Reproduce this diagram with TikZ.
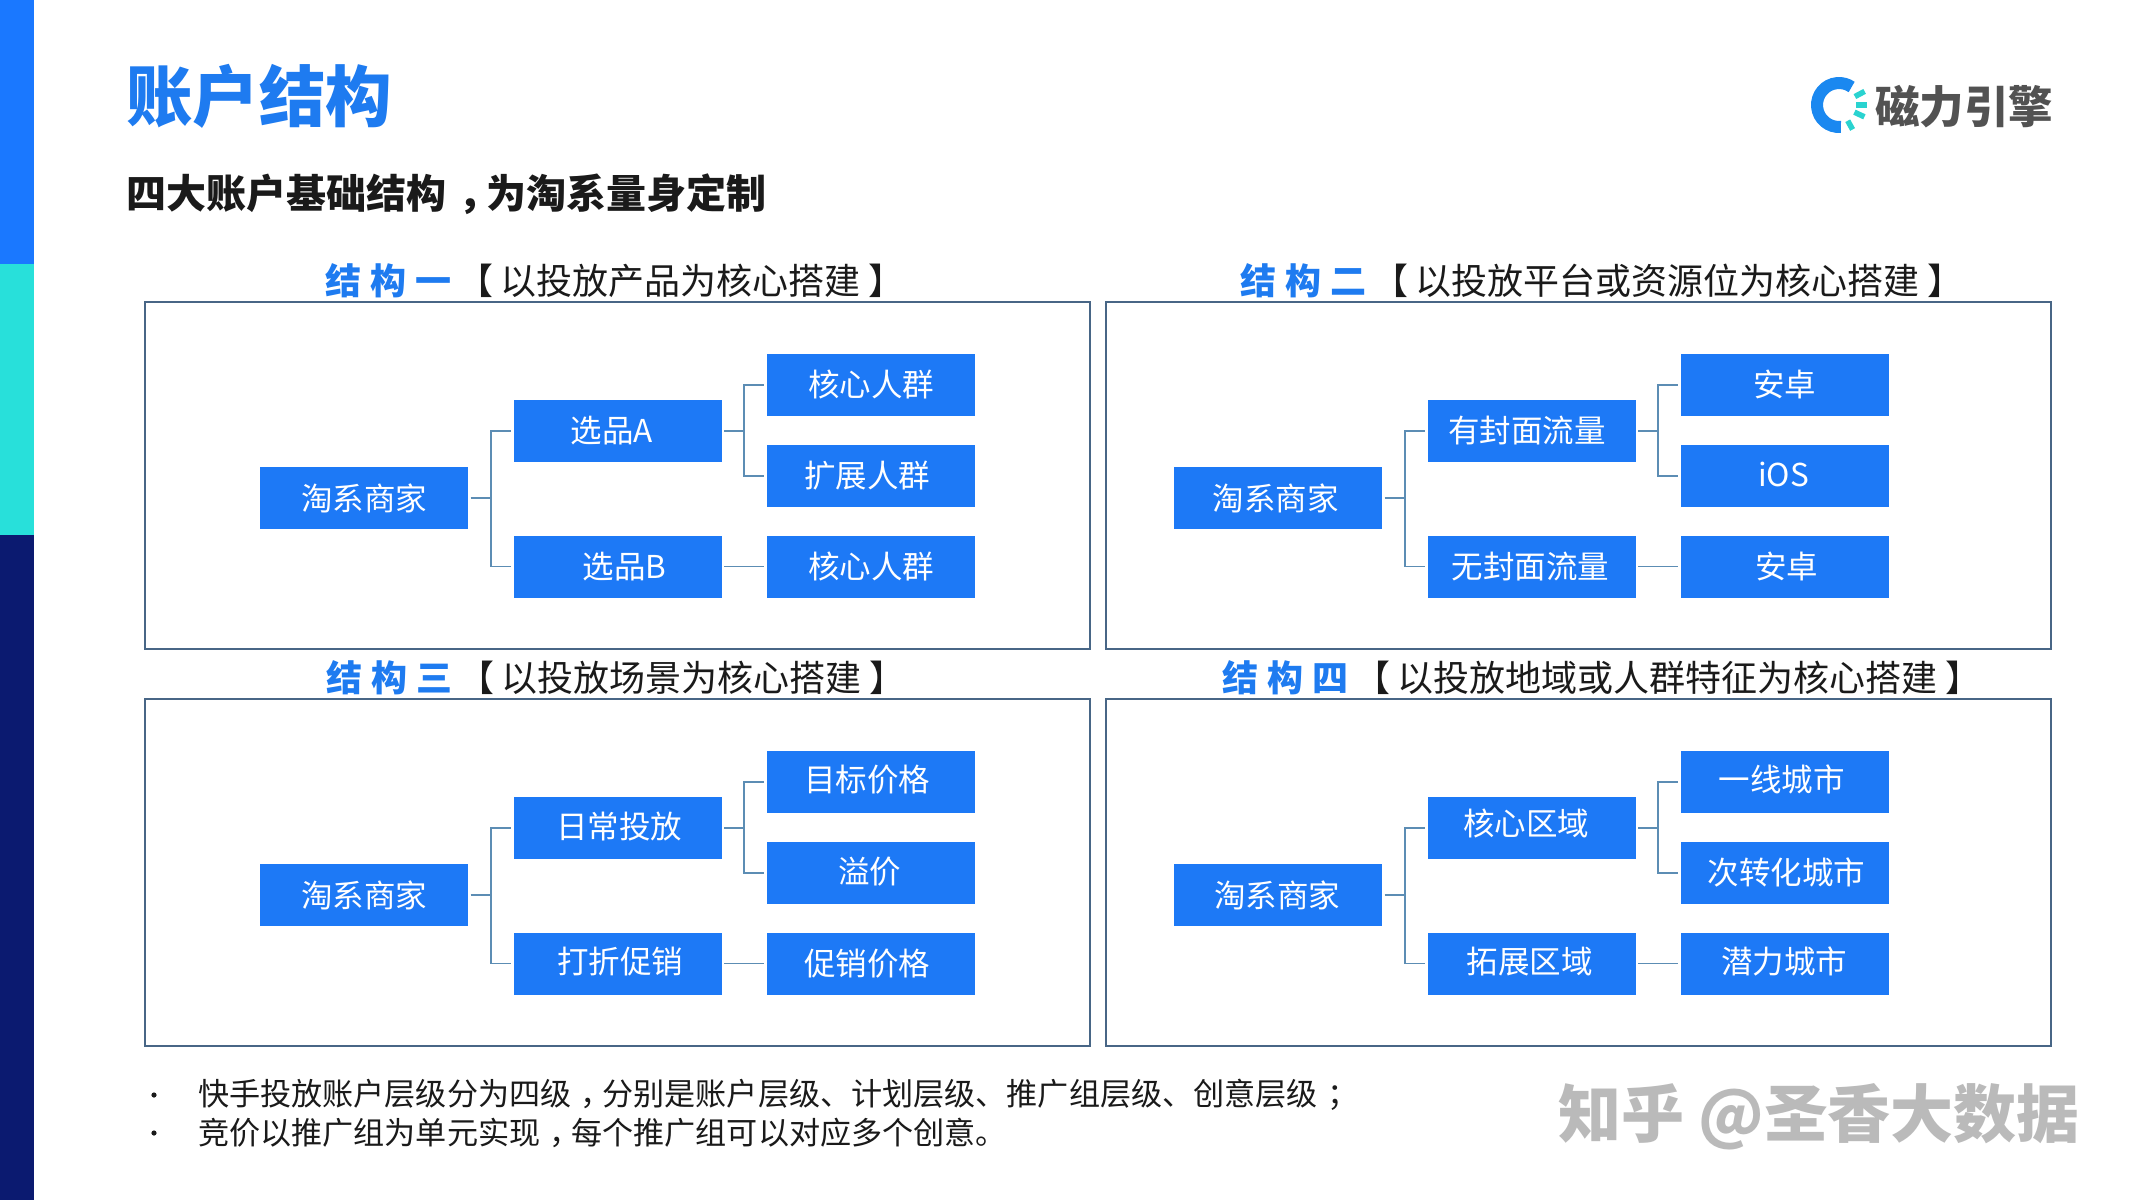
\documentclass[tikz,border=0pt]{standalone}
\usepackage{fontspec}
\setmainfont{Noto Sans CJK SC}
\usetikzlibrary{calc}
\definecolor{tblue}{HTML}{1E7BF0}
\definecolor{bxblue}{HTML}{1D79F6}
\definecolor{barblue}{HTML}{1A78FF}
\definecolor{barcyan}{HTML}{28E0DA}
\definecolor{barnavy}{HTML}{0B1A70}
\definecolor{frm}{HTML}{486686}
\definecolor{cnn}{HTML}{5C8DB4}
\definecolor{ink}{HTML}{1A1A1A}
\definecolor{logoc}{HTML}{2AD3D0}
\definecolor{logob}{HTML}{1A88F0}
\tikzset{
  bx/.style={fill=bxblue,draw=none,text=white,inner sep=0pt,minimum width=208pt,minimum height=62pt,font=\fontsize{31.5}{31.5}\selectfont},
  frame/.style={draw=frm,line width=1.3pt,fill=white,inner sep=0pt,minimum width=945pt,minimum height=347pt},
  cn/.style={draw=cnn,line width=1.8pt},
  head/.style={inner sep=0pt,font=\fontsize{36}{36}\selectfont,text=ink},
  body/.style={inner sep=0pt,anchor=west,font=\fontsize{31.1}{31.1}\selectfont,text=ink},
  tick/.style={draw=logoc,line width=5.5pt},
}
% text inside a box, displaced from the box centre by (#1,#2) px
\newcommand\off[3]{\raisebox{\dimexpr 2\dimexpr #2pt\relax\relax}{\hspace*{\dimexpr 2\dimexpr #1pt\relax\relax}#3}}
% a full-width comma or semicolon moved to the middle of its em box
\newcommand\midp[1]{\kern0.3em #1\kern-0.3em\relax}
\newcommand\tree[8]{%
  \begin{scope}[shift={(#2,#3)}]
  \node[bx] (#1r) at (364,498.25) {#4};
  \node[bx] (#1a) at (617.5,430.75) {#5};
  \node[bx] (#1b) at (617.5,566.5) {#6};
  \node[bx] (#1p) at (870.5,385) {#7};
  \node[bx] (#1q) at (870.5,476) {#8};
  \coordinate (#1j) at (491,498.25);
  \coordinate (#1k) at (744,430.75);
  \end{scope}
  \draw[cn,shorten <=2.5pt] (#1r.east) -- (#1j);
  \draw[cn,shorten <=2.5pt] (#1a.west) -| (#1j);
  \draw[cn,shorten <=2.5pt] (#1b.west) -| (#1j);
  \draw[cn,shorten <=2.5pt] (#1a.east) -- (#1k);
  \draw[cn,shorten <=2.5pt] (#1p.west) -| (#1k);
  \draw[cn,shorten <=2.5pt] (#1q.west) -| (#1k);
  \draw[cn,shorten <=2.5pt,shorten >=2.5pt] (#1b.east) -- (#1s);
}
\newcommand\lastleaf[4]{\node[bx] (#1s) at ($(870.5,566.5)+(#2,#3)$) {#4};}
\newcommand\hb[1]{{\bfseries\color{tblue}#1}}
\newcommand\hd[3]{\hb{结\kern9pt 构\kern9pt #1}\kern#3pt【\kern7pt #2 】}
\begin{document}
\begin{tikzpicture}[x=1pt,y=-1pt]
\useasboundingbox (0,0) rectangle (2133,1200);
\fill[white] (0,0) rectangle (2133,1200);
% side bar
\fill[barblue] (0,0) rectangle (34,264);
\fill[barcyan] (0,264) rectangle (34,535);
\fill[barnavy] (0,535) rectangle (34,1200);
% titles
\node[anchor=west,inner sep=0pt,text=tblue,font=\bfseries\fontsize{66.5}{66.5}\selectfont] (title) at (126,96) {账户结构};
\node[anchor=west,inner sep=0pt,text=ink,font=\bfseries\fontsize{40}{40}\selectfont] (sub) at (126,194) {四大账户基础结构\midp{，}为淘系量身定制};
% logo
\begin{scope}[shift={(1839,105)}]
  \draw[logob,line width=12pt] (85:22) arc[start angle=85,end angle=305,radius=22];
  \draw[tick] (61:18) -- (61:28);
  \draw[tick] (25:17) -- (25:28);
  \draw[tick] (0:17) -- (0:28);
  \draw[tick] (-28:18) -- (-28:29);
\end{scope}
\node[anchor=west,inner sep=0pt,text=black!68,font=\bfseries\fontsize{44.5}{44.5}\selectfont] (logotext) at (1875,107) {磁力引擎};
% frames
\node[frame] (f1) at (617.5,475.5) {};
\node[frame] (f2) at (1578.5,475.5) {};
\node[frame] (f3) at (617.5,872.5) {};
\node[frame] (f4) at (1578.5,872.5) {};
% headings
\node[head,anchor=west] (h1) at (325,281) {\hd{一}{以投放产品为核心搭建}{6}};
\node[head,anchor=west] (h2) at (1240,281) {\hd{二}{以投放平台或资源位为核心搭建}{6}};
\node[head,anchor=west] (h3) at (326,678) {\hd{三}{以投放场景为核心搭建}{6}};
\node[head,anchor=west] (h4) at (1222,678) {\hd{四}{以投放地域或人群特征为核心搭建}{6}};
% tree 1
\lastleaf{A}{0}{0}{\off{0.5}{1.5}{核心人群}}
\tree{A}{0}{0}{淘系商家}{\off{-5.5}{1}{选品A}}{\off{7}{1.5}{选品B}}{\off{0.5}{2}{核心人群}}{\off{-3.5}{1.5}{扩展人群}}
% tree 2
\lastleaf{B}{914}{0}{\off{2}{1.5}{安卓}}
\tree{B}{914}{0}{\off{-2.5}{0}{淘系商家}}{\off{-4.5}{-1.5}{有封面流量}}{\off{-1}{1.5}{无封面流量}}{\off{0}{2}{安卓}}{\off{-1}{1.5}{iOS}}
% tree 3
\lastleaf{C}{0}{397}{\off{-3.5}{1.5}{促销价格}}
\tree{C}{0}{397}{\off{0}{1.5}{淘系商家}}{\off{1.5}{3}{日常投放}}{\off{2.5}{3}{打折促销}}{\off{-3.5}{4}{目标价格}}{\off{-1}{3}{溢价}}
% tree 4
\lastleaf{D}{914}{397}{\off{-0.5}{3}{潜力城市}}
\tree{D}{914}{397}{\off{-1}{1.5}{淘系商家}}{\off{-5.5}{5.5}{核心区域}}{\off{-2}{3}{拓展区域}}{\off{-3}{4}{一线城市}}{\off{2}{1.5}{次转化城市}}
% notes
\fill[ink] (154,1095) circle (2.6);
\fill[ink] (154,1133) circle (2.6);
\node[body] (n1) at (198,1095) {快手投放账户层级分为四级\midp{，}分别是账户层级、计划层级、推广组层级、创意层级\midp{；}};
\node[body] (n2) at (198,1133) {竞价以推广组为单元实现\midp{，}每个推广组可以对应多个创意。};
% watermark
\node[anchor=west,inner sep=0pt,text=black!27,font=\bfseries\fontsize{63}{63}\selectfont] (wm) at (1558,1117) {知乎 @圣香大数据};
\end{tikzpicture}
\end{document}
